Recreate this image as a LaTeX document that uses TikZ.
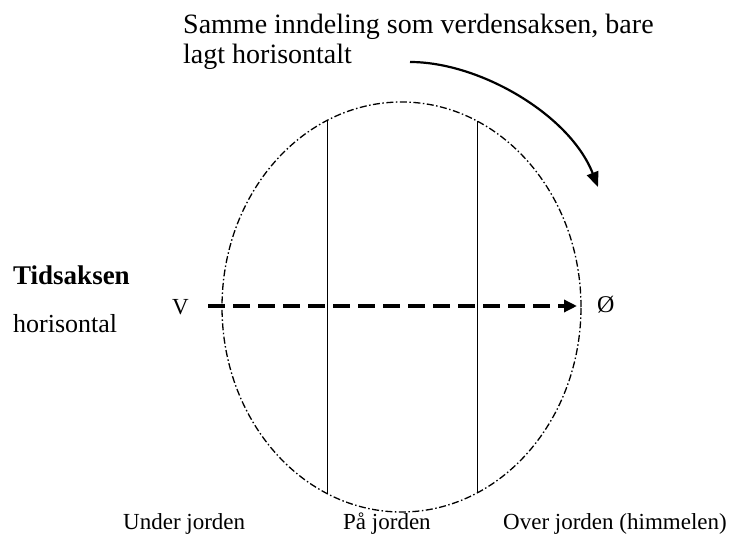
\documentclass[tikz,border=0pt]{standalone}
\usepackage{fontspec}
\setmainfont{Liberation Serif}
\usetikzlibrary{arrows.meta,shapes.geometric}
\begin{document}
\begin{tikzpicture}[x=1pt,y=-1pt,
  txt/.style={inner sep=0pt,anchor=base west},
  topfont/.style={font=\fontsize{28}{30}\selectfont},
  sidefont/.style={font=\fontsize{26}{28}\selectfont},
  botfont/.style={font=\fontsize{23}{25}\selectfont},
  axisfont/.style={font=\fontsize{23}{25}\selectfont},
  ellline/.style={line width=1.3pt,dash pattern=on 7pt off 2.5pt on 1.5pt off 2.5pt},
  divline/.style={line width=1pt},
  timeaxis/.style={line width=4pt,dash pattern=on 17pt off 8pt,-{Triangle[length=13pt,width=12pt]}},
  turnarrow/.style={line width=2.2pt,-{Triangle[length=15pt,width=12pt]}}]
\useasboundingbox (0,0) rectangle (731,534);
% ellipse
\node[ellipse,draw,ellline,minimum width=359pt,minimum height=410pt,inner sep=0pt] (E) at (401.5,307) {};
% division lines
\coordinate (L1) at (327,120.5);
\coordinate (L2) at (327,493.5);
\coordinate (R1) at (477,121);
\coordinate (R2) at (477,493);
\draw[divline] (L1) -- (L2);
\draw[divline] (R1) -- (R2);
% texts
\node[txt,topfont] (t1) at (183,34) {Samme inndeling som verdensaksen, bare};
\node[txt,topfont] (t2) at (183,64) {lagt horisontalt};
\node[txt,font=\fontsize{27}{29}\selectfont\bfseries] (tid) at (13,285) {Tidsaksen};
\node[txt,sidefont] (hor) at (13,333) {horisontal};
\node[txt,axisfont] (V) at (172,315) {V};
\node[txt,font=\fontsize{24}{26}\selectfont] (O) at (597,313) {Ø};
\node[txt,botfont] (b1) at (123,529) {Under jorden};
\node[txt,botfont] (b2) at (343,529) {På jorden};
\node[txt,botfont] (b3) at (503,529) {Over jorden (himmelen)};
% time axis
\coordinate (a1) at (208,306);
\coordinate (a2) at (577,306);
\draw[timeaxis] (a1) -- (a2);
% curved arrow
\coordinate (c1) at (410,62);
\coordinate (c2) at (598,187);
\draw[turnarrow] (c1) .. controls (480,62) and (570,115) .. (c2);
\end{tikzpicture}
\end{document}
